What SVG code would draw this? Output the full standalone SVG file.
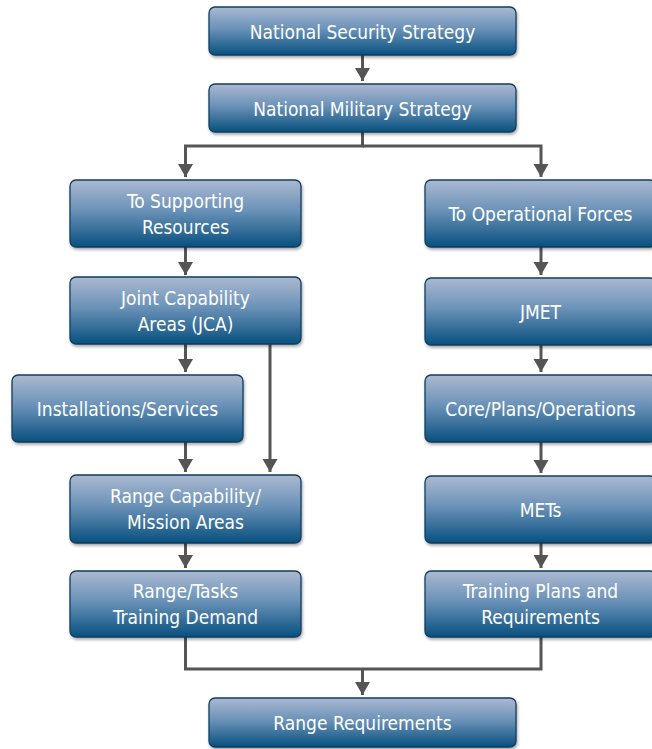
<svg xmlns="http://www.w3.org/2000/svg" width="652" height="749" viewBox="0 0 652 749">
<defs>
  <linearGradient id="boxGrad" x1="0" y1="0" x2="0" y2="1">
    <stop offset="0" stop-color="#abb9d1"/>
    <stop offset="0.45" stop-color="#6b92b8"/>
    <stop offset="1" stop-color="#08507f"/>
  </linearGradient>
  <filter id="shadow" x="-10%" y="-10%" width="120%" height="140%">
    <feDropShadow dx="1" dy="2" stdDeviation="1.5" flood-color="#000" flood-opacity="0.35"/>
  </filter>
  <marker id="arrow" markerUnits="userSpaceOnUse" markerWidth="16" markerHeight="16" refX="13" refY="7.5" orient="auto">
    <path d="M0,0 L13,7.5 L0,15 Z" fill="#555555"/>
  </marker>
  <style>
    .box { fill: url(#boxGrad); stroke: #123d5f; stroke-width: 1.3; filter: url(#shadow); }
    .lbl { fill: #ffffff; font-family: "Liberation Sans Narrow", "DejaVu Sans Condensed", "Liberation Sans", sans-serif; font-size: 19px; text-anchor: middle; }
    .conn { fill: none; stroke: #555555; stroke-width: 3; marker-end: url(#arrow); }
    .plain { fill: none; stroke: #555555; stroke-width: 3; }
  </style>
</defs>

<g id="connectors">
  <path class="conn" d="M362.5 55 V81"/>
  <path class="conn" d="M362.5 132 V146 H185.5 V177"/>
  <path class="conn" d="M362.5 146 H541 V177"/>
  <path class="conn" d="M185.5 247 V275"/>
  <path class="conn" d="M185.5 344 V372"/>
  <path class="conn" d="M270 344 V472"/>
  <path class="conn" d="M185.5 442 V472"/>
  <path class="conn" d="M185.5 543 V568"/>
  <path class="conn" d="M541 247 V275"/>
  <path class="conn" d="M541 345 V372"/>
  <path class="conn" d="M541 442 V473"/>
  <path class="conn" d="M541 543 V568"/>
  <path class="plain" d="M185.5 637 V669 H541 V637"/>
  <path class="conn" d="M362.5 669 V695"/>
</g>

<g id="national-security-strategy">
  <rect class="box" x="209" y="7" width="307" height="48" rx="6"/>
  <text class="lbl" x="362.5" y="39">National Security Strategy</text>
</g>
<g id="national-military-strategy">
  <rect class="box" x="209" y="84" width="307" height="48" rx="6"/>
  <text class="lbl" x="362.5" y="116">National Military Strategy</text>
</g>
<g id="to-supporting-resources">
  <rect class="box" x="70" y="180" width="231" height="67" rx="6"/>
  <text class="lbl" x="185.5" y="208">To Supporting</text>
  <text class="lbl" x="185.5" y="234">Resources</text>
</g>
<g id="to-operational-forces">
  <rect class="box" x="425" y="180" width="231" height="67" rx="6"/>
  <text class="lbl" x="540.5" y="221">To Operational Forces</text>
</g>
<g id="jca">
  <rect class="box" x="70" y="277" width="231" height="67" rx="6"/>
  <text class="lbl" x="185.5" y="305">Joint Capability</text>
  <text class="lbl" x="185.5" y="331">Areas (JCA)</text>
</g>
<g id="jmet">
  <rect class="box" x="425" y="278" width="231" height="67" rx="6"/>
  <text class="lbl" x="540.5" y="319">JMET</text>
</g>
<g id="installations-services">
  <rect class="box" x="12" y="375" width="231" height="67" rx="6"/>
  <text class="lbl" x="127.5" y="416">Installations/Services</text>
</g>
<g id="core-plans-operations">
  <rect class="box" x="425" y="375" width="231" height="67" rx="6"/>
  <text class="lbl" x="540.5" y="416">Core/Plans/Operations</text>
</g>
<g id="range-capability">
  <rect class="box" x="70" y="475" width="231" height="68" rx="6"/>
  <text class="lbl" x="185.5" y="503">Range Capability/</text>
  <text class="lbl" x="185.5" y="529">Mission Areas</text>
</g>
<g id="mets">
  <rect class="box" x="425" y="476" width="231" height="67" rx="6"/>
  <text class="lbl" x="540.5" y="517">METs</text>
</g>
<g id="range-tasks">
  <rect class="box" x="70" y="571" width="231" height="66" rx="6"/>
  <text class="lbl" x="185.5" y="598">Range/Tasks</text>
  <text class="lbl" x="185.5" y="624">Training Demand</text>
</g>
<g id="training-plans">
  <rect class="box" x="425" y="571" width="231" height="66" rx="6"/>
  <text class="lbl" x="540.5" y="598">Training Plans and</text>
  <text class="lbl" x="540.5" y="624">Requirements</text>
</g>
<g id="range-requirements">
  <rect class="box" x="209" y="698" width="307" height="49" rx="6"/>
  <text class="lbl" x="362.5" y="730">Range Requirements</text>
</g>
</svg>
